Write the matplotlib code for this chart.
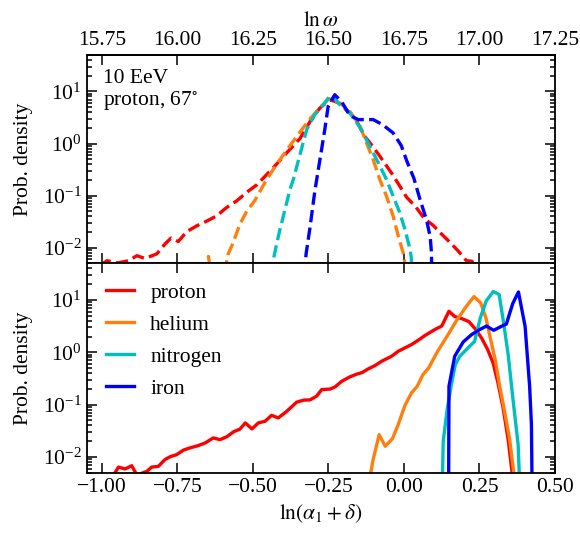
import numpy
import matplotlib
matplotlib.use('Agg')
import matplotlib.pyplot as plt


# -----------------------------------------------------------------------------
# Data
# -----------------------------------------------------------------------------

# top panel (dashed)
top_proton_x = [-1.006, -0.983, -0.946, -0.912, -0.884, -0.857, -0.818, -0.791, -0.771, -0.747,
                -0.719, -0.686, -0.653, -0.620, -0.587, -0.554, -0.515, -0.487, -0.433, -0.387,
                -0.344, -0.306, -0.278, -0.245, -0.218, -0.190, -0.162, -0.130, -0.103, -0.080,
                -0.038, -0.014, 0.009, 0.039, 0.069, 0.096, 0.119, 0.148, 0.179, 0.207, 0.225, 0.235]
top_proton_y = [0.0045, 0.0056, 0.0051, 0.0056, 0.0070, 0.0062, 0.0076, 0.0117, 0.0153, 0.0131,
                0.0203, 0.0262, 0.0323, 0.0407, 0.059, 0.0789, 0.122, 0.161, 0.340, 0.673,
                1.25, 2.94, 4.82, 6.94, 6.08, 4.47, 3.10, 1.38, 0.877, 0.572,
                0.255, 0.153, 0.0927, 0.061, 0.0352, 0.0271, 0.0196, 0.0134, 0.0087, 0.0056, 0.0055, 0.004]

top_helium_x = [-0.658, -0.647, -0.639, -0.596, -0.582, -0.565, -0.543, -0.521, -0.493, -0.457,
                -0.424, -0.384, -0.348, -0.310, -0.275, -0.248, -0.212, -0.179, -0.146, -0.124,
                -0.102, -0.080, -0.058, -0.036, -0.019, -0.003, 0.010]
top_helium_y = [0.003, 0.0068, 0.003, 0.003, 0.0075, 0.0126, 0.0283, 0.049, 0.0813, 0.192,
                0.379, 0.802, 1.55, 3.01, 5.1, 7.25, 6.0, 4.15, 2.21, 1.03,
                0.494, 0.205, 0.098, 0.0407, 0.0169, 0.0081, 0.003]

top_nitrogen_x = [-0.440, -0.433, -0.420, -0.410, -0.388, -0.377, -0.366, -0.344, -0.322, -0.295,
                  -0.267, -0.242, -0.212, -0.179, -0.146, -0.113, -0.085, -0.058, -0.036, -0.014,
                  0.003, 0.020, 0.024, 0.028]
top_nitrogen_y = [0.003, 0.0056, 0.0128, 0.0227, 0.0735, 0.132, 0.205, 0.617, 1.85, 3.59,
                  5.57, 8.65, 5.57, 3.86, 2.07, 0.887, 0.428, 0.205, 0.098, 0.0473,
                  0.0227, 0.0094, 0.0066, 0.003]

top_iron_x = [-0.329, -0.324, -0.311, -0.295, -0.278, -0.262, -0.251, -0.229, -0.205, -0.179,
              -0.151, -0.126, -0.102, -0.071, -0.036, -0.009, 0.010, 0.033, 0.053, 0.075,
              0.087, 0.091, 0.092]
top_iron_y = [0.003, 0.0075, 0.0242, 0.121, 0.494, 1.85, 5.1, 8.65, 6.2, 3.43,
              2.88, 2.88, 2.88, 2.31, 1.60, 0.916, 0.453, 0.214, 0.085, 0.0337,
              0.0160, 0.0081, 0.003]

# bottom panel (solid)
bot_proton_x = [-0.966, -0.945, -0.923, -0.901, -0.884, -0.851, -0.835, -0.813, -0.791, -0.774,
                -0.752, -0.730, -0.708, -0.682, -0.658, -0.631, -0.609, -0.586, -0.563, -0.543,
                -0.525, -0.503, -0.482, -0.460, -0.438, -0.416, -0.391, -0.372, -0.355, -0.331,
                -0.311, -0.289, -0.272, -0.245, -0.228, -0.206, -0.179, -0.156, -0.139, -0.118,
                -0.096, -0.074, -0.041, -0.019, 0.003, 0.025, 0.053, 0.069, 0.102, 0.125,
                0.149, 0.168, 0.191, 0.215, 0.238, 0.258, 0.277, 0.295, 0.311, 0.328,
                0.345, 0.358, 0.363]
bot_proton_y = [0.004, 0.0064, 0.0059, 0.0068, 0.0045, 0.0053, 0.0064, 0.0066, 0.0089, 0.0101,
                0.0111, 0.0135, 0.0149, 0.0164, 0.0185, 0.0231, 0.0214, 0.0244, 0.0305, 0.034,
                0.0447, 0.0343, 0.0447, 0.048, 0.0624, 0.0557, 0.072, 0.0904, 0.1116, 0.122,
                0.123, 0.1455, 0.194, 0.198, 0.218, 0.279, 0.339, 0.383, 0.409, 0.482,
                0.557, 0.673, 0.839, 1.045, 1.213, 1.403, 1.787, 2.084, 2.716, 3.17,
                6.08, 4.82, 4.41, 3.86, 2.72, 1.83, 1.13, 0.627, 0.264, 0.0877,
                0.0214, 0.005, 0.003]

bot_helium_x = [-0.113, -0.102, -0.082, -0.062, -0.038, -0.019, 0.003, 0.025, 0.044, 0.063,
                0.082, 0.110, 0.141, 0.174, 0.207, 0.232, 0.254, 0.271, 0.287, 0.302,
                0.317, 0.334, 0.350, 0.361, 0.368]
bot_helium_y = [0.004, 0.0089, 0.0267, 0.016, 0.0224, 0.0415, 0.0957, 0.1675, 0.224, 0.375,
                0.504, 1.01, 1.95, 4.04, 7.64, 11.6, 8.8, 4.6, 1.75, 0.725,
                0.224, 0.0694, 0.0214, 0.0065, 0.003]

bot_nitrogen_x = [0.127, 0.130, 0.143, 0.157, 0.170, 0.185, 0.210, 0.234, 0.253, 0.273,
                  0.296, 0.315, 0.329, 0.345, 0.361, 0.378, 0.383]
bot_nitrogen_y = [0.003, 0.0199, 0.080, 0.241, 0.582, 0.839, 1.18, 1.62, 4.6, 9.75,
                  14.5, 12.7, 3.95, 0.90, 0.125, 0.0172, 0.003]

bot_iron_x = [0.148, 0.149, 0.168, 0.196, 0.224, 0.251, 0.273, 0.297, 0.323, 0.339,
              0.360, 0.379, 0.401, 0.416, 0.422, 0.424]
bot_iron_y = [0.003, 0.224, 0.839, 1.57, 2.18, 2.72, 3.17, 2.63, 3.14, 3.46,
              8.5, 14.2, 3.14, 0.224, 0.0415, 0.003]

LABELS = ['proton', 'helium', 'nitrogen', 'iron']
COLORS = ['#ff0000', '#ff7f0e', '#00bfbf', '#0000ff']
OMEGA_OFFSET = 16.75


# -----------------------------------------------------------------------------
# Style
# -----------------------------------------------------------------------------

plt.rcParams['font.family'] = 'serif'
plt.rcParams['font.serif'] = ['Liberation Serif', 'DejaVu Serif']
plt.rcParams['mathtext.fontset'] = 'stix'
plt.rcParams['font.size'] = 15.5
plt.rcParams['axes.linewidth'] = 1.3


def style_axis(ax):
    ax.set_yscale('log')
    ax.set_xlim(-1.05, 0.5)
    ax.set_ylim(5e-3, 50)
    ax.set_xticks(numpy.arange(-1.0, 0.51, 0.25))
    ax.tick_params(which='both', direction='in', top=True, right=True, width=1.1)
    ax.tick_params(which='major', length=7.5)
    ax.tick_params(which='minor', length=3.8)
    ax.set_ylabel('Prob. density')
    ax.yaxis.set_label_coords(-0.115, 0.5)


fig = plt.figure(figsize=(5.8, 5.34), dpi=100)
ax_top = fig.add_axes([0.1495, 0.5069, 0.8074, 0.390])
ax_bot = fig.add_axes([0.1495, 0.1148, 0.8074, 0.392])

top_x = [top_proton_x, top_helium_x, top_nitrogen_x, top_iron_x]
top_y = [top_proton_y, top_helium_y, top_nitrogen_y, top_iron_y]
bot_x = [bot_proton_x, bot_helium_x, bot_nitrogen_x, bot_iron_x]
bot_y = [bot_proton_y, bot_helium_y, bot_nitrogen_y, bot_iron_y]

for xs, ys, c in zip(top_x, top_y, COLORS):
    ax_top.plot(xs, ys, '--', color=c, lw=2.4)
for xs, ys, c, lab in zip(bot_x, bot_y, COLORS, LABELS):
    ax_bot.plot(xs, ys, '-', color=c, lw=2.4, label=lab)

style_axis(ax_top)
style_axis(ax_bot)
ax_top.tick_params(labelbottom=False, top=False)

sec = ax_top.secondary_xaxis('top', functions=(lambda x: x + OMEGA_OFFSET,
                                               lambda x: x - OMEGA_OFFSET))
sec.set_xticks(numpy.arange(15.75, 17.26, 0.25))
sec.tick_params(direction='in', length=7.5, width=1.1)
sec.set_xlabel(r'$\ln\omega$')

ax_top.text(0.035, 0.935, '10 EeV\nproton, 67$^{\\circ}$', transform=ax_top.transAxes,
            ha='left', va='top', linespacing=1.15)

ax_bot.set_xlabel(r'$\ln(\alpha_1+\delta)$')
ax_bot.legend(loc='upper left', frameon=False, handlelength=1.3, handletextpad=0.75,
              labelspacing=0.55, borderaxespad=0.5)

plt.savefig('out.png', dpi=100)
